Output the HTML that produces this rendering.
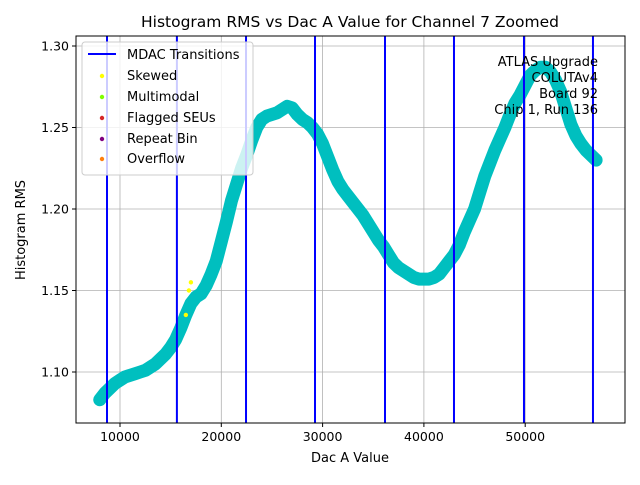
<!DOCTYPE html>
<html><head><meta charset="utf-8"><style>
body{margin:0;background:#fff}
svg text{font-family:"DejaVu Sans","Liberation Sans",sans-serif;fill:#000}
</style></head><body>
<svg id="chart" width="640" height="480" xmlns="http://www.w3.org/2000/svg">
<rect width="640" height="480" fill="#fff"/>
<text x="350" y="27" font-size="15.5" text-anchor="middle">Histogram RMS vs Dac A Value for Channel 7 Zoomed</text>
<g id="grid"></g>
<g id="points"></g>
<g id="lines"></g>
<g id="axes"></g>
<rect x="76" y="36" width="549" height="387" fill="none" stroke="#000" stroke-width="1"/>
<text x="350" y="462" font-size="13" text-anchor="middle">Dac A Value</text>
<text transform="translate(25,230) rotate(-90)" font-size="13" text-anchor="middle">Histogram RMS</text>
<g font-size="13" text-anchor="end">
<text x="598" y="66">ATLAS Upgrade</text>
<text x="598" y="82">COLUTAv4</text>
<text x="598" y="98">Board 92</text>
<text x="598" y="114">Chip 1, Run 136</text>
</g>
<g>
<rect x="82" y="42" width="171" height="133" rx="3" fill="#fff" fill-opacity="0.8" stroke="#ccc"/>
<g><line x1="88" y1="54" x2="116" y2="54" stroke="#0000ff" stroke-width="2"/><text x="127" y="59" font-size="13">MDAC Transitions</text></g>
<g><circle cx="102" cy="76" r="2.2" fill="#ffff00"/><text x="127" y="80" font-size="13">Skewed</text></g>
<g><circle cx="102" cy="97" r="2.2" fill="#7fff00"/><text x="127" y="101" font-size="13">Multimodal</text></g>
<g><circle cx="102" cy="118" r="2.2" fill="#d62728"/><text x="127" y="122" font-size="13">Flagged SEUs</text></g>
<g><circle cx="102" cy="139" r="2.2" fill="#800080"/><text x="127" y="143" font-size="13">Repeat Bin</text></g>
<g><circle cx="102" cy="159" r="2.2" fill="#ff7f0e"/><text x="127" y="163" font-size="13">Overflow</text></g>
</g>
</svg>
<script>
const xTicks=[10000,20000,30000,40000,50000];
const yTicks=[1.10,1.15,1.20,1.25,1.30];
const transitions=[8717,15617,22440,29250,36160,42970,49880,56690];
const dacValues=[8000,8500,9000,9500,10000,10500,11000,11500,12000,12500,13000,13500,14000,14500,15000,15500,16000,16500,17000,17500,18000,18500,19000,19500,20000,20500,21000,21500,22000,22500,23000,23500,24000,24500,25000,25500,26000,26500,27000,27500,28000,28500,29000,29500,30000,30500,31000,31500,32000,32500,33000,33500,34000,34500,35000,35500,36000,36500,37000,37500,38000,38500,39000,39500,40000,40500,41000,41500,42000,42500,43000,43500,44000,44500,45000,45500,46000,46500,47000,47500,48000,48500,49000,49500,50000,50500,51000,51500,52000,52500,53000,53500,54000,54500,55000,55500,56000,56500,57000];
const rmsValues=[1.083,1.087,1.090,1.093,1.095,1.097,1.098,1.099,1.100,1.101,1.103,1.105,1.108,1.111,1.115,1.120,1.127,1.135,1.142,1.146,1.148,1.153,1.160,1.168,1.180,1.192,1.205,1.215,1.225,1.233,1.242,1.250,1.255,1.257,1.258,1.259,1.261,1.263,1.262,1.258,1.255,1.253,1.250,1.246,1.240,1.232,1.224,1.217,1.212,1.208,1.204,1.200,1.196,1.191,1.186,1.181,1.177,1.172,1.167,1.164,1.162,1.160,1.158,1.157,1.157,1.157,1.158,1.160,1.164,1.168,1.172,1.178,1.186,1.193,1.200,1.210,1.220,1.228,1.236,1.243,1.250,1.258,1.265,1.270,1.276,1.282,1.285,1.287,1.287,1.284,1.279,1.272,1.262,1.252,1.245,1.240,1.236,1.233,1.230];
const skewedDac=[16500,17000,16800];
const skewedRms=[1.135,1.155,1.150];
const NS='http://www.w3.org/2000/svg';
const X=v=>18.7+v*0.01013;
const Y=v=>372-(v-1.10)*1630;
function mk(t,a,p){const e=document.createElementNS(NS,t);for(const k in a)e.setAttribute(k,a[k]);document.getElementById(p).appendChild(e);return e;}
xTicks.forEach(t=>{
 const g=mk('line',{x1:X(t),x2:X(t),y1:36,y2:423,stroke:'#b0b0b0','stroke-width':0.8},'grid');
 
 
 mk('line',{x1:X(t),x2:X(t),y1:423,y2:427,stroke:'#000'},'axes');
 const l=mk('text',{x:X(t),y:441,'font-size':12.5,'text-anchor':'middle'},'axes');l.textContent=t;
 
 
});
yTicks.forEach(t=>{
 const g=mk('line',{x1:76,x2:625,y1:Y(t),y2:Y(t),stroke:'#b0b0b0','stroke-width':0.8},'grid');
 
 
 mk('line',{x1:72,x2:76,y1:Y(t),y2:Y(t),stroke:'#000'},'axes');
 const l=mk('text',{x:69,y:Y(t)+4.5,'font-size':12.5,'text-anchor':'end'},'axes');l.textContent=t.toFixed(2);
 
 
});
const band=mk('polyline',{points:dacValues.map((d,i)=>X(d)+','+Y(rmsValues[i])).join(' '),fill:'none',stroke:'#00bfbf','stroke-width':13,'stroke-linejoin':'round','stroke-linecap':'round'},'points');


dacValues.forEach((d,i)=>{
 const p=mk('circle',{cx:X(d),cy:Y(rmsValues[i]),r:3,fill:'#00bfbf'},'points');
 
 
});
transitions.forEach(t=>{
 const l=mk('line',{x1:X(t),x2:X(t),y1:36,y2:423,stroke:'#0000ff','stroke-width':2},'lines');
 
 
});
skewedDac.forEach((d,i)=>{
 const p=mk('circle',{cx:X(d),cy:Y(skewedRms[i]),r:2.2,fill:'#ffff00'},'points');
 
 
});
</script>
</body></html>
